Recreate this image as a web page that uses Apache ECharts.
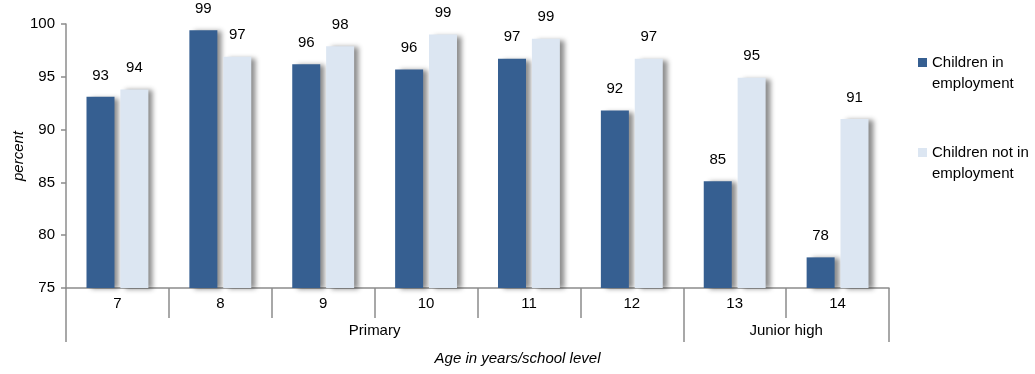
<!DOCTYPE html>
<html>
<head>
<meta charset="utf-8">
<script src="https://cdn.jsdelivr.net/npm/echarts@6/dist/echarts.min.js"></script>
<style>
  html, body { margin: 0; padding: 0; background: #fff; }
  #chart { width: 1035px; height: 374px; }
</style>
</head>
<body>
<div id="chart"></div>
<script>
const ages = ['7', '8', '9', '10', '11', '12', '13', '14'];
const inEmployment = [93.1, 99.4, 96.2, 95.7, 96.7, 91.8, 85.1, 77.9];
const notInEmployment = [93.8, 96.9, 97.9, 99.0, 98.6, 96.7, 94.9, 91.0];
const schoolLevels = ['Primary', 'Junior high'];
const levelSpans = [6, 2];
const yTicks = [75, 80, 85, 90, 95, 100];

// group boundaries and centres on a 0..n value scale under the category axis
const bounds = [0];
levelSpans.forEach(s => bounds.push(bounds[bounds.length - 1] + s));
const centres = levelSpans.map((s, i) => bounds[i] + s / 2);

const font = 'Liberation Sans, Arial, sans-serif';
const axisGrey = '#8c8c8c';

const chart = echarts.init(document.getElementById('chart'), null, {renderer: 'canvas'});

const barLabel = {
    show: true,
    position: 'top',
    distance: 14,
    color: '#000',
    fontFamily: font,
    fontSize: 15,
    formatter: p => Math.round(p.value)
};
const shadow = {
    shadowColor: 'rgba(0,0,0,0.45)',
    shadowBlur: 5,
    shadowOffsetX: 5,
    shadowOffsetY: 1
};

chart.setOption({
    animation: false,
    textStyle: {fontFamily: font},
    title: {
        text: 'Age in years/school level',
        left: 'center',
        top: 346,
        textStyle: {fontFamily: font, fontSize: 15, fontStyle: 'italic', fontWeight: 'normal', color: '#000'}
    },
    legend: {
        orient: 'vertical',
        left: 918,
        top: 31,
        padding: 0,
        itemWidth: 9,
        itemHeight: 9,
        itemGap: 27,
        icon: 'rect',
        textStyle: {fontFamily: font, fontSize: 15, color: '#000', lineHeight: 21},
        // blank first line keeps the swatch level with the first text line
        formatter: name => '\n' + name.replace(/ (\S+)$/, '\n$1')
    },
    grid: {left: 66, right: 146, top: 24, bottom: 86, outerBoundsMode: 'none'},
    xAxis: [
        {
            type: 'category',
            data: ages,
            axisLine: {lineStyle: {color: axisGrey, width: 1.5}},
            axisTick: {show: true, interval: 0, length: 30, lineStyle: {color: axisGrey, width: 1.5}},
            axisLabel: {interval: 0, margin: 8, color: '#000', fontSize: 15}
        },
        {
            type: 'value',
            min: 0,
            max: bounds[bounds.length - 1],
            position: 'bottom',
            offset: 30,
            splitLine: {show: false},
            axisLine: {show: false},
            axisTick: {show: true, length: 24, customValues: bounds, lineStyle: {color: axisGrey, width: 1.5}},
            axisLabel: {
                margin: 5,
                color: '#000',
                fontSize: 15,
                customValues: centres,
                formatter: v => schoolLevels[centres.indexOf(v)] || ''
            }
        }
    ],
    yAxis: {
        type: 'value',
        min: yTicks[0],
        max: yTicks[yTicks.length - 1],
        interval: 5,
        name: 'percent',
        nameLocation: 'middle',
        nameGap: 40,
        nameMoveOverlap: false,
        nameTextStyle: {fontFamily: font, fontSize: 15, fontStyle: 'italic', color: '#000'},
        splitLine: {show: false},
        axisLine: {show: true, lineStyle: {color: axisGrey, width: 1.5}},
        axisTick: {show: true, length: 5, lineStyle: {color: axisGrey, width: 1.5}},
        axisLabel: {margin: 11, color: '#000', fontSize: 15}
    },
    series: [
        {
            name: 'Children in employment',
            type: 'bar',
            data: inEmployment,
            barWidth: 28,
            barGap: '21%',
            itemStyle: Object.assign({color: '#365F91'}, shadow),
            label: barLabel
        },
        {
            name: 'Children not in employment',
            type: 'bar',
            data: notInEmployment,
            barWidth: 28,
            itemStyle: Object.assign({color: '#DCE6F2'}, shadow),
            label: barLabel
        }
    ]
});
</script>
</body>
</html>
